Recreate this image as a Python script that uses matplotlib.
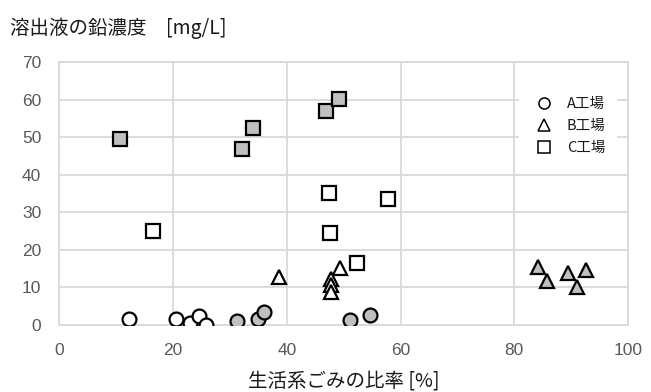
import matplotlib
matplotlib.use("Agg")
import matplotlib.pyplot as plt
from matplotlib.lines import Line2D

plt.rcParams['font.family'] = ['Noto Sans CJK JP', 'DejaVu Sans']

# Data (x: 生活系ごみの比率 [%], y: 溶出液の鉛濃度 [mg/L])
a_white_x = [12.3, 20.5, 23.0, 24.5, 25.8]
a_white_y = [1.5, 1.5, 0.5, 2.5, 0.0]
a_gray_x = [31.3, 34.9, 36.0, 51.2, 54.7]
a_gray_y = [1.1, 1.7, 3.4, 1.3, 2.6]

b_white_x = [38.7, 49.3, 47.7, 47.7, 47.7]
b_white_y = [12.8, 15.1, 12.2, 10.6, 8.9]
b_gray_x = [84.2, 85.8, 89.5, 92.7, 91.0]
b_gray_y = [15.5, 11.8, 13.8, 14.5, 10.2]

c_white_x = [16.5, 47.4, 47.6, 52.3, 57.8]
c_white_y = [25.1, 35.2, 24.4, 16.6, 33.5]
c_gray_x = [10.7, 32.2, 34.1, 46.9, 49.1]
c_gray_y = [49.6, 46.9, 52.4, 57.0, 60.2]

legend_labels = ['A工場', 'B工場', 'C工場']
x_ticks = [0, 20, 40, 60, 80, 100]
y_ticks = [0, 10, 20, 30, 40, 50, 60, 70]

GRAY = '#BFBFBF'
GRID = '#D9D9D9'
TICK = '#595959'
TEXT = '#1a1a1a'

fig = plt.figure(figsize=(6.51, 3.92), dpi=100)
ax = fig.add_axes([0.091, 0.171, 0.8737, 0.671])

ms = 10
mew = 1.6
kw = dict(linestyle='none', markersize=ms, markeredgewidth=mew, markeredgecolor='black', zorder=3)
ax.plot(a_white_x, a_white_y, marker='o', markerfacecolor='white', **kw)
ax.plot(a_gray_x, a_gray_y, marker='o', markerfacecolor=GRAY, **kw)
ax.plot(b_white_x, b_white_y, marker='^', markerfacecolor='white', **kw)
ax.plot(b_gray_x, b_gray_y, marker='^', markerfacecolor=GRAY, **kw)
ax.plot(c_white_x, c_white_y, marker='s', markerfacecolor='white', **kw)
ax.plot(c_gray_x, c_gray_y, marker='s', markerfacecolor=GRAY, **kw)

ax.set_xlim(0, 100)
ax.set_ylim(0, 70)
ax.set_xticks(x_ticks)
ax.set_yticks(y_ticks)
ax.grid(True, color=GRID, linewidth=1.3, zorder=0)
ax.set_axisbelow(True)
for s in ax.spines.values():
    s.set_color(GRID)
    s.set_linewidth(1.3)
ax.tick_params(length=0, colors=TICK, labelsize=12.5)
ax.tick_params(axis='x', pad=13)
ax.tick_params(axis='y', pad=13)
for lab in ax.get_xticklabels() + ax.get_yticklabels():
    lab.set_fontfamily(['Liberation Sans', 'DejaVu Sans'])

ax.set_xlabel('生活系ごみの比率 [%]', fontsize=14, color=TEXT, labelpad=9)
fig.text(0.016, 0.928, '溶出液の鉛濃度\u3000[mg/L]', fontsize=14, color=TEXT, va='center', ha='left')

handles = [Line2D([], [], linestyle='none', marker=m, markersize=8, markerfacecolor='white',
                  markeredgecolor='black', markeredgewidth=1.1) for m in ['o', '^', 's']]
leg = ax.legend(handles, legend_labels, loc='upper left', bbox_to_anchor=(0.808, 0.905),
                frameon=True, fancybox=False, edgecolor='white', facecolor='white', framealpha=1,
                fontsize=10.5, handletextpad=0.6, labelspacing=0.55, borderpad=0.7,
                handlelength=2.0, borderaxespad=0)
for t in leg.get_texts():
    t.set_color(TEXT)

fig.savefig('out.png', dpi=100)
